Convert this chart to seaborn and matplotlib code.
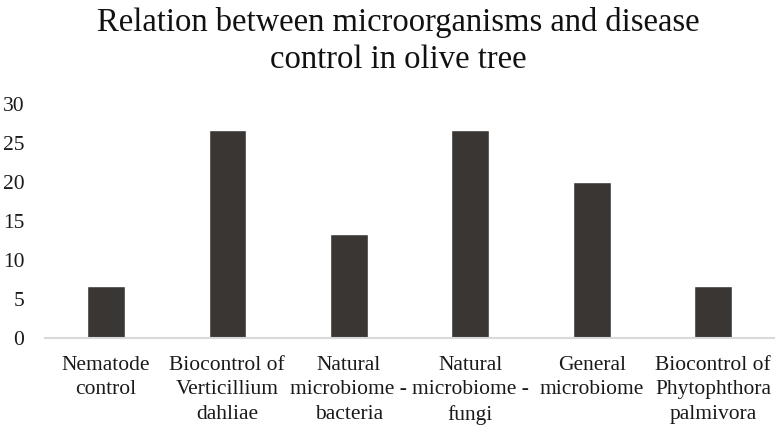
import matplotlib
matplotlib.use("Agg")
import matplotlib.pyplot as plt
import seaborn as sns
import pandas as pd

# Data
categories = ["Nematode\ncontrol", "Biocontrol of\nVerticillium\ndahliae",
              "Natural\nmicrobiome -\nbacteria", "Natural\nmicrobiome -\nfungi",
              "General\nmicrobiome", "Biocontrol of\nPhytophthora\npalmivora"]
values = [6.67, 26.67, 13.33, 26.67, 20.0, 6.67]
y_ticks = [0, 5, 10, 15, 20, 25, 30]

df = pd.DataFrame({"category": categories, "value": values})

sns.set_style("white")
plt.rcParams["font.family"] = ["Liberation Serif", "DejaVu Serif"]

fig = plt.figure(figsize=(7.79, 4.34), dpi=100)
ax = fig.add_axes([0.058, 0.221, 0.9355, 0.539])

sns.barplot(data=df, x="category", y="value", color="#3a3634", width=0.31,
            saturation=1, ax=ax)

ax.set_ylim(0, 30)
ax.set_yticks(y_ticks)
ax.set_xlabel("")
ax.set_ylabel("")
ax.tick_params(axis="y", length=0, pad=15, labelsize=15.5, labelcolor="#1a1a1a")
ax.tick_params(axis="x", length=0, pad=13, labelsize=15.5, labelcolor="#1a1a1a")
for lab in ax.get_xticklabels():
    lab.set_linespacing(1.38)

for s in ["top", "right", "left"]:
    ax.spines[s].set_visible(False)
ax.spines["bottom"].set_color("#d9d9d9")
ax.spines["bottom"].set_linewidth(1.5)

fig.suptitle("Relation between microorganisms and disease\ncontrol in olive tree",
             x=0.511, y=0.985, fontsize=23.5, color="#111111", linespacing=1.3)

fig.savefig("out.png", dpi=100)
